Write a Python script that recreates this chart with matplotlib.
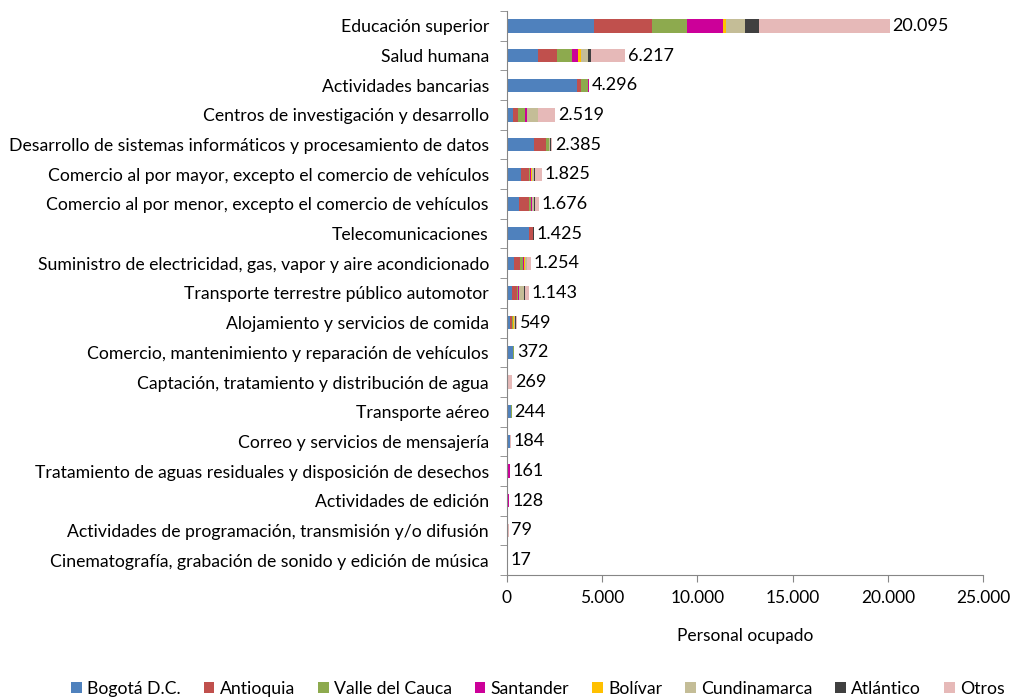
import matplotlib
matplotlib.use("Agg")
import matplotlib.pyplot as plt
import numpy as np
from matplotlib.ticker import FuncFormatter, FixedLocator

categories = [
    "Educación superior",
    "Salud humana",
    "Actividades bancarias",
    "Centros de investigación y desarrollo",
    "Desarrollo de sistemas informáticos y procesamiento de datos",
    "Comercio al por mayor, excepto el comercio de vehículos",
    "Comercio al por menor, excepto el comercio de vehículos",
    "Telecomunicaciones",
    "Suministro de electricidad, gas, vapor y aire acondicionado",
    "Transporte terrestre público automotor",
    "Alojamiento y servicios de comida",
    "Comercio, mantenimiento y reparación de vehículos",
    "Captación, tratamiento y distribución de agua",
    "Transporte aéreo",
    "Correo y servicios de mensajería",
    "Tratamiento de aguas residuales y disposición de desechos",
    "Actividades de edición",
    "Actividades de programación, transmisión y/o difusión",
    "Cinematografía, grabación de sonido y edición de música",
]

series_names = ["Bogotá D.C.", "Antioquia", "Valle del Cauca", "Santander",
                "Bolívar", "Cundinamarca", "Atlántico", "Otros"]

bogota       = [4590, 1610, 3690, 330, 1440, 735, 650, 1170, 380, 250, 160, 290, 10, 230, 170, 20, 60, 50, 10]
antioquia    = [3030, 1030, 210, 250, 590, 420, 520, 170, 300, 290, 90, 50, 40, 5, 5, 5, 10, 0, 0]
valle        = [1830, 790, 340, 350, 160, 70, 80, 10, 180, 30, 70, 10, 5, 5, 3, 5, 0, 0, 0]
santander    = [1890, 300, 56, 100, 20, 60, 40, 10, 30, 50, 20, 5, 0, 0, 0, 120, 40, 0, 0]
bolivar      = [180, 170, 0, 0, 10, 30, 20, 5, 60, 10, 10, 2, 0, 0, 0, 0, 0, 0, 0]
cundinamarca = [1000, 370, 0, 580, 60, 110, 90, 20, 80, 250, 80, 5, 10, 0, 3, 5, 0, 15, 0]
atlantico    = [730, 160, 0, 0, 30, 50, 80, 10, 20, 60, 20, 5, 4, 0, 0, 0, 0, 0, 0]
otros        = [6845, 1787, 0, 909, 75, 350, 196, 30, 204, 203, 99, 5, 200, 4, 3, 6, 18, 14, 7]

totals = [20095, 6217, 4296, 2519, 2385, 1825, 1676, 1425, 1254, 1143,
          549, 372, 269, 244, 184, 161, 128, 79, 17]
total_labels = ["20.095", "6.217", "4.296", "2.519", "2.385", "1.825", "1.676", "1.425",
                "1.254", "1.143", "549", "372", "269", "244", "184", "161", "128", "79", "17"]

colors = ["#4F81BD", "#C0504D", "#8DAA4E", "#CC0099", "#FFC000", "#C4BD97", "#404040", "#E6B9B8"]

plt.rcParams['font.family'] = ['Lato', 'DejaVu Sans']

fig = plt.figure(figsize=(10.11, 6.98), dpi=100)
ax = fig.add_axes([507/1011, 1-575/698, (983-507)/1011, (575-11)/698])

y = np.arange(len(categories))
data = [bogota, antioquia, valle, santander, bolivar, cundinamarca, atlantico, otros]
left = np.zeros(len(categories))
for name, vals, c in zip(series_names, data, colors):
    v = np.array(vals, dtype=float)
    ax.barh(y, v, left=left, height=0.45, color=c, label=name, linewidth=0)
    left += v

for yi, tot, lab in zip(y, left, total_labels):
    ax.text(tot + 150, yi, lab, va='center', ha='left', fontsize=13, color='black')

ax.set_ylim(len(categories) - 0.5, -0.5)
ax.set_xlim(0, 25000)
ax.set_xticks([0, 5000, 10000, 15000, 20000, 25000])
ax.xaxis.set_major_formatter(FuncFormatter(lambda v, p: f"{int(v):,}".replace(",", ".")))
ax.set_yticks(y)
ax.set_yticklabels(categories, fontsize=12.7)
ax.yaxis.set_minor_locator(FixedLocator(np.arange(-0.5, len(categories), 1)))
ax.tick_params(axis='y', which='major', length=0, pad=13)
ax.tick_params(axis='y', which='minor', length=5, color='#868686')
ax.tick_params(axis='x', which='major', length=5, color='#868686', labelsize=12.5, pad=6)

for s in ['top', 'right']:
    ax.spines[s].set_visible(False)
ax.spines['left'].set_color('#868686')
ax.spines['bottom'].set_color('#868686')

ax.set_xlabel("Personal ocupado", fontsize=12.5, labelpad=16)

fig.legend(loc='center', bbox_to_anchor=(538/1011, 1-689/698), ncol=8, frameon=False,
           fontsize=12.7, handlelength=0.6, handleheight=0.6, handletextpad=0.3,
           columnspacing=1.3)

fig.savefig("out.png", dpi=100)
